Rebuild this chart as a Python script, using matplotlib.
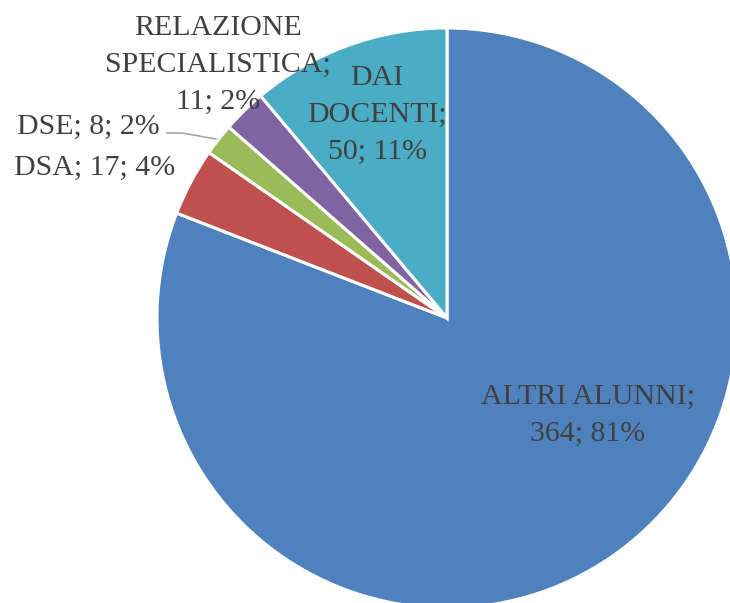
import matplotlib
matplotlib.use("Agg")
import matplotlib.pyplot as plt

# data, clockwise from 12 o'clock
categories = ["ALTRI ALUNNI", "DSA", "DSE", "RELAZIONE SPECIALISTICA", "DAI DOCENTI"]
values = [364, 17, 8, 11, 50]
colors = ["#4F81BD", "#C0504D", "#9BBB59", "#8064A2", "#4BACC6"]
# how each label breaks over lines (name part only)
label_names = ["ALTRI ALUNNI;", "DSA;", "DSE;", "RELAZIONE\nSPECIALISTICA;", "DAI\nDOCENTI;"]
label_seps = ["\n", " ", " ", "\n", "\n"]

W, H = 730, 603
fig = plt.figure(figsize=(W / 100, H / 100), dpi=100)
ax = fig.add_axes([0, 0, 1, 1])

cx, cy, r = 447, H - 318, 290
ax.pie(values, colors=colors, startangle=90, counterclock=False,
       radius=r, center=(cx, cy), frame=True,
       wedgeprops=dict(edgecolor="white", linewidth=2.2))
ax.set_xlim(0, W)
ax.set_ylim(0, H)
ax.set_aspect("equal")
ax.axis("off")

total = sum(values)
# label anchor positions in pixels (x, y from top)
label_pos = [(588, 415), (95, 168), (88, 127), (218, 65), (377, 115)]
for name, sep, v, (px, py) in zip(label_names, label_seps, values, label_pos):
    pct = round(100 * v / total)
    txt = f"{name}{sep}{v}; {pct}%"
    ax.text(px, H - py, txt, ha="center", va="center", fontsize=21.5,
            family="Liberation Serif", color="#404040", linespacing=1.55)

# leader line for DSE
ax.plot([167, 182, 216], [H - 133, H - 133, H - 139], color="#A6A6A6", lw=1.2)

fig.savefig("out.png", dpi=100)
